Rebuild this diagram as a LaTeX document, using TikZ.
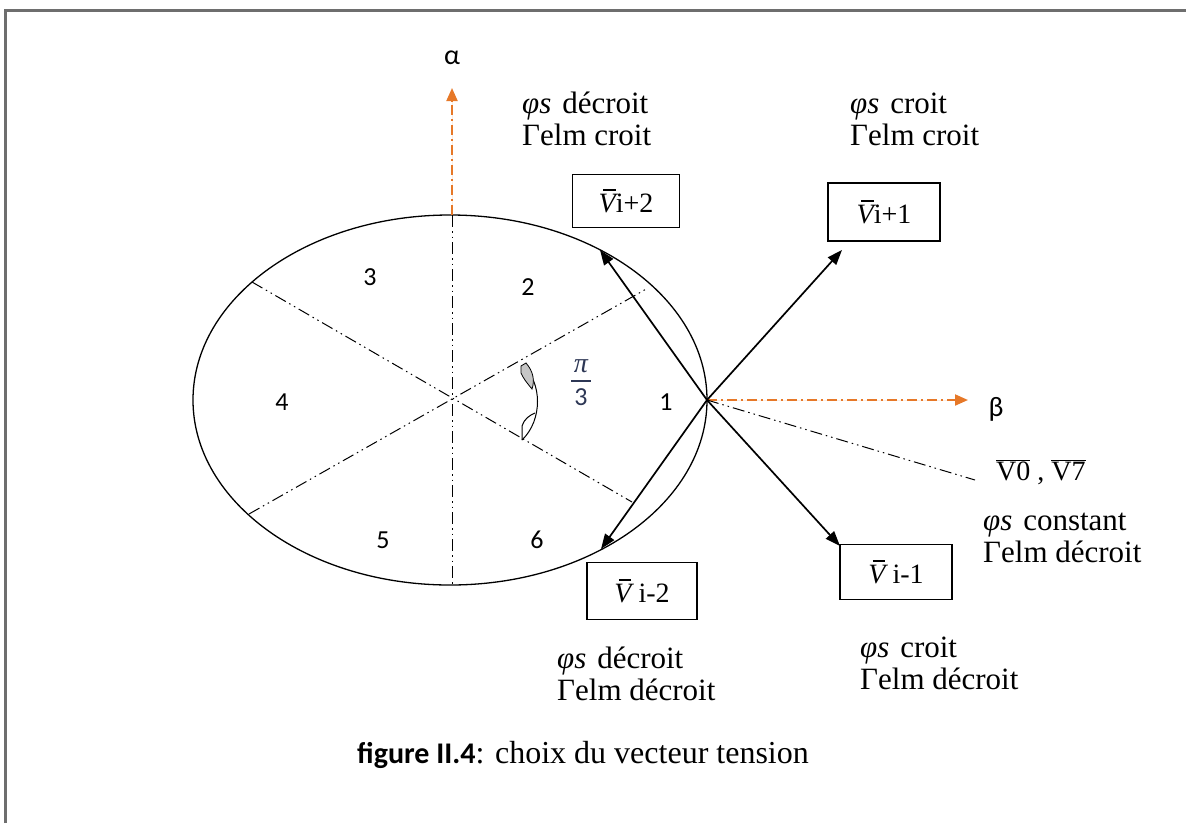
\documentclass[tikz,border=0pt]{standalone}
\usepackage{fontspec}
\setmainfont{Liberation Serif}
\newfontfamily\calib{Carlito}
\usetikzlibrary{arrows.meta}
\definecolor{axorange}{RGB}{230,120,40}
\definecolor{framegray}{RGB}{110,110,110}
\definecolor{pidark}{RGB}{45,55,85}
\newcommand{\phis}{{\itshape φs}\hspace{0.35em}}
\newcommand{\vbarV}{\makebox[0pt][l]{\hspace{0.16em}\rule[0.78em]{0.45em}{0.05em}}{\itshape V}}
\begin{document}
\begin{tikzpicture}[x=1pt,y=-1pt,
  vbox/.style={draw, line width=1.3pt, minimum width=107pt, minimum height=53pt, inner sep=0pt, font=\fontsize{28}{30}\selectfont},
  note/.style={anchor=west, align=left, font=\fontsize{31}{32}\selectfont, inner sep=0pt},
  sect/.style={font=\calib\fontsize{26}{28}\selectfont, inner sep=0pt},
  vec/.style={line width=1.7pt, -{Triangle[length=15pt,width=11pt]}},
  divline/.style={line width=1pt, dash pattern=on 12pt off 4pt on 1.5pt off 4pt on 1.5pt off 4pt},
  orax/.style={draw=axorange, fill=axorange, line width=2pt, dash pattern=on 10pt off 4pt on 2pt off 4pt, -{Triangle[length=13pt,width=11pt]}}
]
\useasboundingbox (0,0) rectangle (1186,823);
\draw[framegray, line width=3pt] (5,823) -- (5,10) -- (1186,10);

% ellipse and sectors
\coordinate (C) at (450,400);
\coordinate (O) at (707,400);
\draw[line width=1.3pt] (C) ellipse [x radius=257, y radius=185];
\coordinate (top) at (452,215);
\coordinate (bot) at (452,585);
\coordinate (ur) at (648,288);
\coordinate (ul) at (252,282);
\coordinate (ll) at (249,514);
\coordinate (lr) at (632,502);
\draw[divline] (top) -- (bot);
\draw[divline] (ll) -- (ur);
\draw[divline] (ul) -- (lr);

% axes
\coordinate (atip) at (452,88);
\coordinate (btip) at (968,400);
\draw[orax] (top) -- (atip);
\draw[orax] (O) -- (btip);
\node[sect, font=\calib\fontsize{28}{30}\selectfont] (alpha) at (452,58) {α};
\node[sect, font=\calib\fontsize{28}{30}\selectfont] (beta) at (996,409) {β};

% sector numbers
\node[sect] (s1) at (666,402) {1};
\node[sect] (s2) at (528,287) {2};
\node[sect] (s3) at (370,277) {3};
\node[sect] (s4) at (282,402) {4};
\node[sect] (s5) at (383,540) {5};
\node[sect] (s6) at (537,540) {6};
\node[font=\fontsize{28}{30}\selectfont\itshape, text=pidark, inner sep=0pt] (pinum) at (581,366) {π};
\node[sect, text=pidark] (piden) at (581,397) {3};
\draw[pidark, line width=1.3pt] (571,381) -- (591,381);

% angle marker
\draw[line width=1pt] (523,366) .. controls (542,382) and (543,420) .. (522,440);
\filldraw[fill=gray!45, line width=0.8pt] (521,366) -- (526,363) .. controls (533,371) and (535,380) .. (532,389) .. controls (527,383) and (523,378) .. (521,373) -- cycle;
\draw[line width=1pt] (522,440) -- (522,426) .. controls (524,419) and (530,415) .. (535,413);

% voltage vectors
\node[vbox] (v2p) at (626,201) {\vbarV i+2};
\node[vbox, minimum width=112pt, minimum height=58pt] (v1p) at (884,212) {\vbarV i+1};
\node[vbox, minimum width=110pt, minimum height=57pt] (v2m) at (642,591) {\vbarV\ i-2};
\node[vbox, minimum width=112pt, minimum height=55pt] (v1m) at (896,572) {\vbarV\ i-1};
\coordinate (t2p) at (600,250);
\coordinate (t1p) at (842,250);
\coordinate (t2m) at (601,549);
\coordinate (t1m) at (840,546);
\draw[vec] (O) -- (t2p);
\draw[vec] (O) -- (t1p);
\draw[vec] (O) -- (t2m);
\draw[vec] (O) -- (t1m);

% zero vectors
\coordinate (z) at (975,480);
\draw[line width=1pt, dash pattern=on 12pt off 4pt on 1.5pt off 4pt on 1.5pt off 4pt] (O) -- (z);
\node[anchor=west, inner sep=0pt, font=\fontsize{28}{30}\selectfont] (v07) at (996,472) {$\overline{\mbox{V0}}$ , $\overline{\mbox{V7}}$};

% annotations
\node[note] (n1) at (522,119) {\phis décroit\\ Γelm croit};
\node[note] (n2) at (850,119) {\phis croit\\ Γelm croit};
\node[note] (n3) at (983,538) {\phis constant\\ Γelm décroit};
\node[note] (n4) at (557,674) {\phis décroit\\ Γelm décroit};
\node[note] (n5) at (860,663) {\phis croit\\ Γelm décroit};

% caption
\node[anchor=west, inner sep=0pt, font=\fontsize{32}{34}\selectfont] (cap) at (357,755) {{\calib\bfseries\fontsize{30}{32}\selectfont figure II.4}: choix du vecteur tension};
\end{tikzpicture}
\end{document}
